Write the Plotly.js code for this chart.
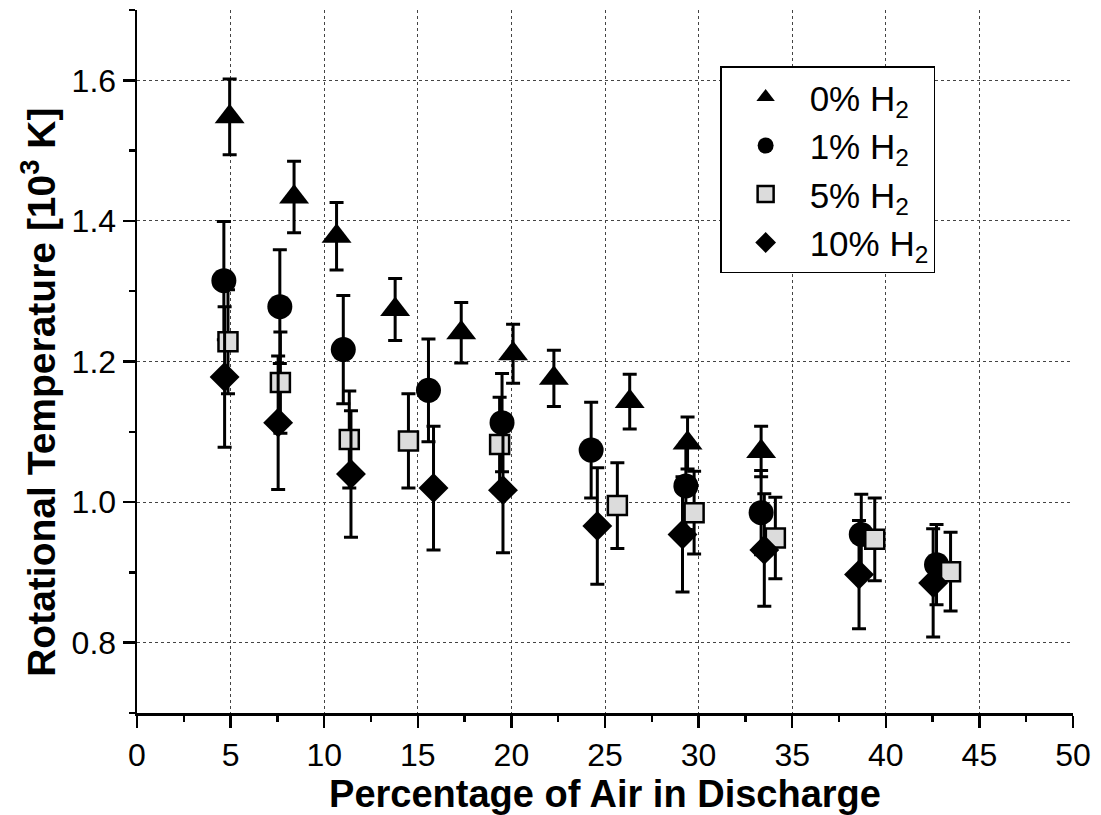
<!DOCTYPE html>
<html>
<head>
<meta charset="utf-8">
<script src="https://cdn.plot.ly/plotly-3.0.1.min.js"></script>
<style>html,body{margin:0;padding:0;background:#fff;}#chart{width:1101px;height:815px;}</style>
</head>
<body>
<div id="chart"></div>
<script>
// 0% H2 (triangles)
const xTri = [4.95, 8.39, 10.66, 13.79, 17.32, 20.09, 22.27, 26.32, 29.41, 33.34];
const yTri = [1.548, 1.434, 1.378, 1.274, 1.241, 1.211, 1.176, 1.143, 1.084, 1.072];
const eTri = [0.054, 0.051, 0.048, 0.044, 0.043, 0.042, 0.040, 0.039, 0.037, 0.036];
// 1% H2 (circles)
const xCir = [4.64, 7.63, 11.02, 15.57, 19.50, 24.26, 29.32, 33.34, 38.69, 42.71];
const yCir = [1.315, 1.278, 1.217, 1.159, 1.113, 1.074, 1.023, 0.985, 0.954, 0.911];
const eCir = [0.084, 0.081, 0.077, 0.073, 0.070, 0.068, 0.062, 0.060, 0.057, 0.057];
// 5% H2 (squares)
const xSq = [4.86, 7.66, 11.34, 14.50, 19.37, 25.66, 29.76, 34.10, 39.41, 43.46];
const ySq = [1.228, 1.170, 1.089, 1.087, 1.082, 0.995, 0.985, 0.949, 0.947, 0.901];
const eSq = [0.074, 0.072, 0.069, 0.067, 0.067, 0.061, 0.059, 0.058, 0.059, 0.056];
// 10% H2 (diamonds)
const xDia = [4.68, 7.54, 11.43, 15.84, 19.55, 24.59, 29.14, 33.51, 38.57, 42.53];
const yDia = [1.178, 1.113, 1.040, 1.020, 1.017, 0.966, 0.954, 0.932, 0.897, 0.885];
const eDia = [0.100, 0.095, 0.090, 0.088, 0.089, 0.083, 0.082, 0.080, 0.077, 0.077];

const seriesNames = ['0% H<sub>2</sub>', '1% H<sub>2</sub>', '5% H<sub>2</sub>', '10% H<sub>2</sub>'];
const xTitle = 'Percentage of Air in Discharge';
const yTitle = 'Rotational Temperature [10<sup>3</sup> K]';

const FONT = 'Liberation Sans, Arial, Helvetica, sans-serif';

function errBar(arr) {
  return {type: 'data', array: arr, visible: true, color: '#000', thickness: 3, width: 7};
}

const traces = [
  {x: xTri, y: yTri, name: seriesNames[0], mode: 'markers', type: 'scatter',
   error_y: errBar(eTri),
   marker: {symbol: 'triangle-up', size: 26, color: '#000', line: {width: 0}}},
  {x: xCir, y: yCir, name: seriesNames[1], mode: 'markers', type: 'scatter',
   error_y: errBar(eCir),
   marker: {symbol: 'circle', size: 25, color: '#000', line: {width: 0}}},
  {x: xSq, y: ySq, name: seriesNames[2], mode: 'markers', type: 'scatter',
   error_y: errBar(eSq),
   marker: {symbol: 'square', size: 19, color: '#dcdcdc', line: {width: 2.5, color: '#000'}}},
  {x: xDia, y: yDia, name: seriesNames[3], mode: 'markers', type: 'scatter',
   error_y: errBar(eDia),
   marker: {symbol: 'diamond', size: 23, color: '#000', line: {width: 0}}}
];

const layout = {
  width: 1101, height: 815,
  margin: {l: 137, r: 28, t: 10, b: 102},
  paper_bgcolor: '#fff', plot_bgcolor: '#fff',
  font: {family: FONT, color: '#000', size: 32},
  showlegend: true,
  legend: {
    x: 0.623, y: 0.920, xanchor: 'left', yanchor: 'top',
    bgcolor: '#fff', bordercolor: '#000', borderwidth: 1.5,
    itemwidth: 78,
    font: {family: FONT, size: 35, color: '#000'}
  },
  xaxis: {
    range: [0, 50], dtick: 5, tick0: 0,
    showline: true, linecolor: '#000', linewidth: 2.5, mirror: false,
    ticks: 'outside', ticklen: 12, tickwidth: 2.5, tickcolor: '#000',
    tickfont: {family: FONT, size: 32},
    showgrid: true, gridcolor: '#444', gridwidth: 1, griddash: 'dot',
    zeroline: false,
    minor: {dtick: 2.5, ticks: 'outside', ticklen: 6, tickwidth: 2.5, tickcolor: '#000', showgrid: false},
    title: {text: xTitle, font: {family: FONT, size: 38, weight: 'bold'}, standoff: 16}
  },
  yaxis: {
    range: [0.7, 1.7], dtick: 0.2, tick0: 0, tickformat: '.1f',
    showline: true, linecolor: '#000', linewidth: 2.5, mirror: false,
    ticks: 'outside', ticklen: 12, tickwidth: 2.5, tickcolor: '#000',
    tickfont: {family: FONT, size: 32},
    showgrid: true, gridcolor: '#444', gridwidth: 1, griddash: 'dot',
    zeroline: false,
    minor: {dtick: 0.1, ticks: 'outside', ticklen: 6, tickwidth: 2.5, tickcolor: '#000', showgrid: false}
  },
  annotations: [{
    text: yTitle, textangle: -90, showarrow: false,
    xref: 'paper', yref: 'paper', x: -0.106, y: 0.4566,
    xanchor: 'center', yanchor: 'middle',
    font: {family: FONT, size: 39, weight: 'bold', color: '#000'}
  }]
};

Plotly.newPlot('chart', traces, layout, {displayModeBar: false, staticPlot: true});
</script>
</body>
</html>
